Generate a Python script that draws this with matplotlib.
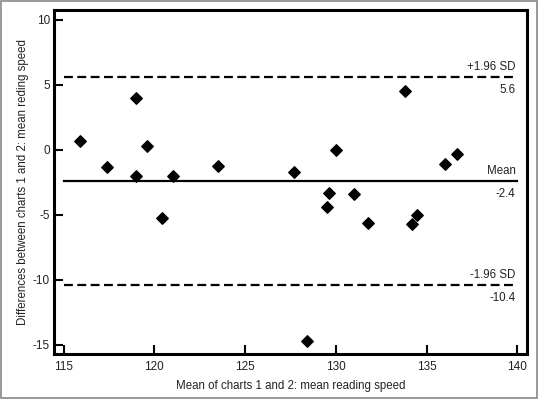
import matplotlib.pyplot as plt
from matplotlib.patches import Rectangle

plt.rcParams['font.family'] = ['Liberation Sans', 'DejaVu Sans']
plt.rcParams['axes.unicode_minus'] = False

# Bland-Altman data: mean of charts vs difference
mean_speed = [115.9, 117.4, 119.0, 119.0, 119.6, 120.4, 121.0, 123.5, 127.7, 128.4,
              129.5, 129.6, 130.0, 131.0, 131.8, 133.8, 134.2, 134.5, 136.0, 136.7]
diff_speed = [0.7, -1.3, 4.0, -2.0, 0.3, -5.2, -2.0, -1.2, -1.7, -14.7,
              -4.4, -3.3, 0.0, -3.4, -5.6, 4.55, -5.7, -5.0, -1.05, -0.3]

mean_diff = -2.4
upper_loa = 5.6
lower_loa = -10.4

x_ticks = [115, 120, 125, 130, 135, 140]
y_ticks = [-15, -10, -5, 0, 5, 10]

fig = plt.figure(figsize=(5.38, 3.99), dpi=100)
ax = fig.add_axes([0.1004, 0.112, 0.8786, 0.8637])

# gray border round the picture
fig.patches.append(Rectangle((0.002, 0.002), 0.996, 0.996, transform=fig.transFigure,
                             fill=False, edgecolor='#888888', lw=1.2))

ax.plot([115, 140], [upper_loa, upper_loa], color='black', ls=(0, (4, 2)), lw=1.6)
ax.plot([115, 140], [mean_diff, mean_diff], color='black', lw=1.6)
ax.plot([115, 140], [lower_loa, lower_loa], color='black', ls=(0, (4, 2)), lw=1.6)

ax.scatter(mean_speed, diff_speed, marker='D', s=34, color='black', zorder=3)

fs = 8.5
lfs = 8.3
for val, name in [(upper_loa, '+1.96 SD'), (mean_diff, 'Mean'), (lower_loa, '-1.96 SD')]:
    ax.text(139.9, val + 0.3, name, ha='right', va='bottom', fontsize=lfs, color='#222222')
    ax.text(139.9, val - 0.55, f'{val:.1f}', ha='right', va='top', fontsize=lfs, color='#222222')

ax.set_xlim(114.47, 140.52)
ax.set_ylim(-15.72, 10.79)
ax.set_xticks(x_ticks)
ax.set_yticks(y_ticks)
ax.tick_params(direction='in', length=6.5, width=1.5, labelsize=fs, colors='black',
               labelcolor='#222222')
ax.tick_params(axis='x', pad=5)
ax.tick_params(axis='y', pad=3)
for s in ax.spines.values():
    s.set_linewidth(2.2)

ax.set_xlabel('Mean of charts 1 and 2: mean reading speed', fontsize=lfs, color='#222222', labelpad=5)
ax.set_ylabel('Differences between charts 1 and 2: mean reding speed', fontsize=lfs,
              color='#222222', labelpad=3)

fig.savefig('out.png', dpi=100)
